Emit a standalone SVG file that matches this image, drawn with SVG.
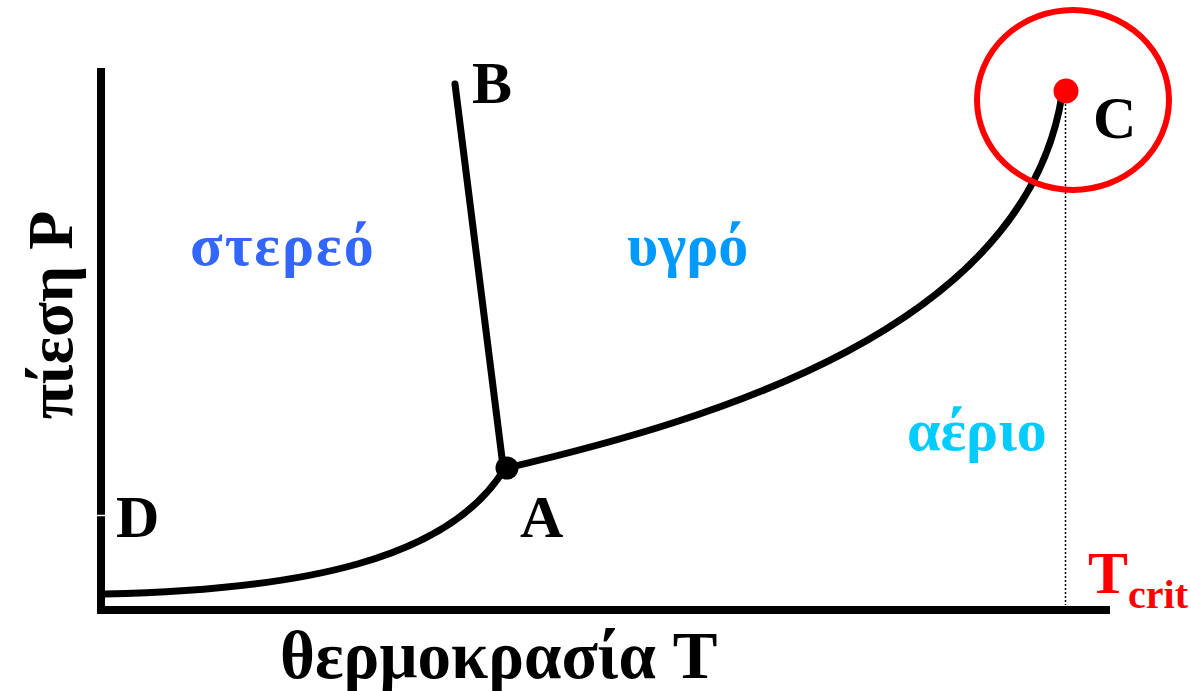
<svg xmlns="http://www.w3.org/2000/svg" width="1191" height="691" viewBox="0 0 1191 691">
<style>
.lbl{font-family:"Liberation Serif","DejaVu Serif",serif;font-weight:bold;fill:#000}
.phase{font-family:"Liberation Serif","DejaVu Serif",serif;font-weight:bold;font-size:60px}
.curve{fill:none;stroke:#000;stroke-width:7;stroke-linecap:round}
.axis{stroke:#000;stroke-width:8;fill:none}
</style>
<rect width="1191" height="691" fill="#fff"/>
<g id="axes">
<line class="axis" x1="101" y1="68" x2="101" y2="612"/>
<line class="axis" x1="97" y1="610" x2="1110" y2="610"/>
<line x1="96" y1="515.5" x2="106" y2="515.5" stroke="#fff" stroke-width="1.5"/>
</g>
<g id="connectors">
<path class="curve" d="M105,594 C300,590 450,560 505,468"/>
<path class="curve" d="M507,468 C710,420 1025,330 1062,95"/>
<line class="curve" x1="455" y1="84" x2="503" y2="466"/>
<line x1="1065.5" y1="92" x2="1065.5" y2="605" stroke="#000" stroke-width="1.5" stroke-dasharray="2 2"/>
</g>
<g id="node-A">
<circle cx="507" cy="468" r="11.5" fill="#000"/>
<text class="lbl" x="520" y="537" font-size="60">A</text>
</g>
<g id="node-B">
<text class="lbl" x="472" y="103" font-size="60">B</text>
</g>
<g id="node-C">
<ellipse cx="1073" cy="100" rx="96" ry="90" fill="none" stroke="#ff0000" stroke-width="6"/>
<circle cx="1066" cy="91" r="12.5" fill="#ff0000"/>
<text class="lbl" x="1093" y="138" font-size="60">C</text>
</g>
<g id="node-D">
<text class="lbl" x="116" y="537" font-size="60">D</text>
</g>
<g id="phases">
<text class="phase" x="190" y="265" fill="#3366ff" letter-spacing="2">στερεό</text>
<text class="phase" x="627" y="265" fill="#0099ff">υγρό</text>
<text class="phase" x="907" y="450" fill="#00ccff">αέριο</text>
</g>
<g id="axis-labels">
<text class="lbl" x="280" y="678" font-size="67">θερμοκρασία T</text>
<text class="lbl" font-size="64" text-anchor="middle" transform="translate(72,315) rotate(-90)">πίεση P</text>
<text class="lbl" x="1088" y="593" font-size="60" style="fill:#ff0000">T<tspan font-size="40" dy="15">crit</tspan></text>
</g>
</svg>
